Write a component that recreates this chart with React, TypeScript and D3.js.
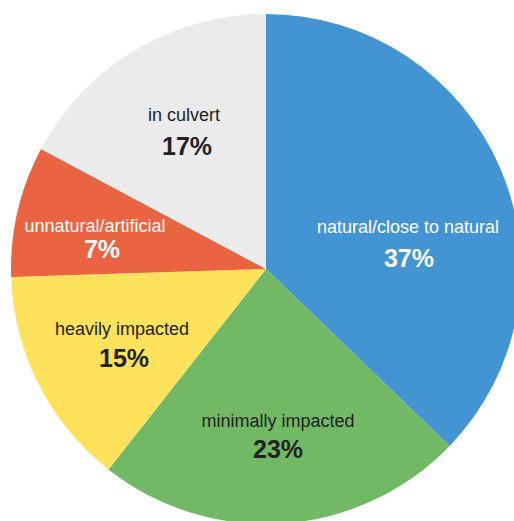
import React from "react";
import * as d3 from "d3";

// Data
const categories = [
  "natural/close to natural",
  "minimally impacted",
  "heavily impacted",
  "unnatural/artificial",
  "in culvert",
];
// slice shares as drawn (measured angles)
const sliceShares = [37.2, 23.4, 13.9, 8.3, 17.2];
// percentages as printed on the chart
const percentLabels = ["37%", "23%", "15%", "7%", "17%"];

// Styles
const colors = ["#4394d3", "#72b966", "#fee25b", "#ea6441", "#ebebeb"];
const textColors = ["#ffffff", "#222222", "#222222", "#ffffff", "#222222"];
// label anchor offsets relative to the pie centre (layout)
const labelOffsets: [number, number][] = [
  [142, -36],
  [12, 158],
  [-144, 66],
  [-171, -37],
  [-82, -148],
];
const percentGap = [34, 31, 32, 26, 34];
const percentDx = [1, 0, 2, 7, 3];

const W = 514;
const H = 521;
const CX = 266;
const CY = 269;
const R = 255;

export default function App() {
  const pie = d3
    .pie<number>()
    .sort(null)
    .value((d) => d)
    .startAngle(0)
    .endAngle(2 * Math.PI);
  const arcs = pie(sliceShares);
  const arcGen = d3.arc<d3.PieArcDatum<number>>().innerRadius(0).outerRadius(R);
  const font = "'Liberation Sans', Arial, sans-serif";

  return (
    <svg
      width={W}
      height={H}
      style={{ position: "absolute", left: 0, top: 0, display: "block", background: "#fff" }}
    >
      <g transform={`translate(${CX},${CY})`}>
        {arcs.map((a, i) => (
          <path key={i} d={arcGen(a) || ""} fill={colors[i]} />
        ))}
        {arcs.map((a, i) => (
          <g key={"l" + i} fontFamily={font} textAnchor="middle" fill={textColors[i]}>
            <text x={labelOffsets[i][0]} y={labelOffsets[i][1]} fontSize={18}>
              {categories[i]}
            </text>
            <text
              x={labelOffsets[i][0] + percentDx[i]}
              y={labelOffsets[i][1] + percentGap[i]}
              fontSize={25}
              fontWeight="bold"
            >
              {percentLabels[i]}
            </text>
          </g>
        ))}
      </g>
    </svg>
  );
}
